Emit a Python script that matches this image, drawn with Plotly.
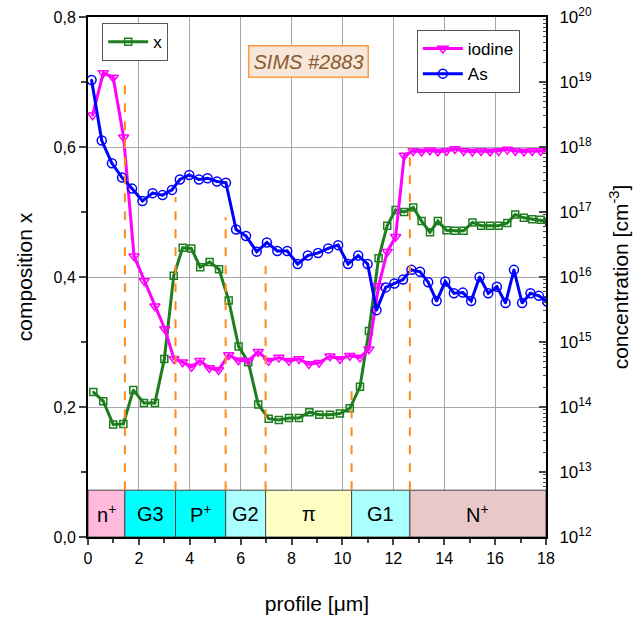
import plotly.graph_objects as go

# ---------------- data ----------------
x_comp = [0.21, 0.60, 0.99, 1.39, 1.78, 2.20, 2.63, 3.00, 3.37, 3.72, 4.06, 4.41, 4.78, 5.15,
          5.53, 5.92, 6.30, 6.69, 7.10, 7.50, 7.90, 8.29, 8.70, 9.09, 9.51, 9.90, 10.29, 10.69,
          11.04, 11.42, 11.76, 12.09, 12.43, 12.78, 13.11, 13.44, 13.75, 14.09, 14.42, 14.76,
          15.11, 15.45, 15.80, 16.14, 16.48, 16.79, 17.13, 17.46, 17.79, 18.12]
comp = [0.223, 0.209, 0.173, 0.174, 0.226, 0.206, 0.206, 0.274, 0.402, 0.445, 0.444, 0.415,
        0.423, 0.412, 0.364, 0.293, 0.269, 0.204, 0.182, 0.180, 0.183, 0.183, 0.192, 0.188,
        0.188, 0.190, 0.198, 0.231, 0.317, 0.429, 0.479, 0.503, 0.500, 0.507, 0.486, 0.469,
        0.486, 0.472, 0.471, 0.471, 0.484, 0.479, 0.479, 0.479, 0.483, 0.496, 0.491, 0.489,
        0.488, 0.485]

x_iod = [0.18, 0.60, 0.99, 1.40, 1.81, 2.21, 2.63, 3.02, 3.38, 3.72, 4.07, 4.40, 4.77, 5.13,
         5.53, 5.91, 6.30, 6.69, 7.10, 7.50, 7.90, 8.29, 8.68, 9.08, 9.51, 9.90, 10.29, 10.69,
         11.04, 11.42, 11.76, 12.09, 12.43, 12.78, 13.11, 13.44, 13.75, 14.09, 14.42, 14.76,
         15.11, 15.45, 15.80, 16.14, 16.48, 16.79, 17.13, 17.46, 17.79, 18.12]
iod_log = [18.49, 19.14, 19.07, 18.15, 16.32, 15.94, 15.55, 15.20, 14.74, 14.69, 14.62, 14.71,
           14.60, 14.57, 14.80, 14.72, 14.71, 14.85, 14.71, 14.76, 14.71, 14.74, 14.66, 14.68,
           14.78, 14.74, 14.79, 14.76, 14.89, 15.86, 16.39, 16.62, 17.87, 17.94, 17.93, 17.95,
           17.93, 17.94, 17.97, 17.94, 17.93, 17.94, 17.93, 17.94, 17.96, 17.94, 17.93, 17.94,
           17.94, 17.94]

x_as = [0.14, 0.54, 0.94, 1.34, 1.73, 2.14, 2.54, 2.93, 3.30, 3.61, 3.98, 4.36, 4.70, 5.07,
        5.42, 5.82, 6.21, 6.63, 7.03, 7.44, 7.83, 8.24, 8.64, 9.04, 9.44, 9.83, 10.22, 10.62,
        10.99, 11.34, 11.70, 12.04, 12.38, 12.71, 13.05, 13.37, 13.70, 14.04, 14.38, 14.73,
        15.06, 15.39, 15.73, 16.07, 16.41, 16.74, 17.06, 17.39, 17.72, 18.05]
as_log = [19.03, 18.10, 17.75, 17.53, 17.36, 17.17, 17.29, 17.26, 17.34, 17.50, 17.57, 17.50,
          17.52, 17.47, 17.45, 16.73, 16.63, 16.39, 16.53, 16.40, 16.40, 16.20, 16.33, 16.37,
          16.44, 16.49, 16.20, 16.33, 16.20, 15.49, 15.84, 15.90, 15.96, 16.11, 16.08, 15.92,
          15.63, 15.93, 15.75, 15.76, 15.63, 16.00, 15.75, 15.85, 15.60, 16.11, 15.60, 15.75,
          15.71, 15.62]

iodine = [10.0 ** v for v in iod_log]
arsenic = [10.0 ** v for v in as_log]

layer_names = ["n<sup>+</sup>", "G3", "P<sup>+</sup>", "G2", "π", "G1", "N<sup>+</sup>"]
layer_edges = [0.0, 1.45, 3.44, 5.41, 6.98, 10.36, 12.65, 18.0]
layer_colors = ["#FFB9DC", "#00FFFF", "#00FFFF", "#AAFFFF", "#FFFFC4", "#AAFFFF", "#E8C8C8"]
band_top = 0.072
boundary_x = [1.45, 3.44, 5.41, 6.98, 10.36, 12.65]
boundary_top = [0.695, 0.523, 0.492, 0.417, 0.237, 0.60]

x_ticks = [0, 2, 4, 6, 8, 10, 12, 14, 16, 18]
comp_ticks = [0.0, 0.2, 0.4, 0.6, 0.8]
comp_labels = ["0,0", "0,2", "0,4", "0,6", "0,8"]
conc_exp = [12, 13, 14, 15, 16, 17, 18, 19, 20]

# ---------------- figure ----------------
FONT = "Liberation Sans, Arial, sans-serif"
GREEN = "#1E7E1E"
fig = go.Figure()

fig.add_trace(go.Scatter(
    x=x_comp, y=comp, name="x", mode="lines+markers", yaxis="y", legend="legend",
    showlegend=True,
    line=dict(color=GREEN, width=3),
    marker=dict(symbol="square-open-dot", size=7, color=GREEN, line=dict(width=1.5, color=GREEN)),
))
fig.add_trace(go.Scatter(
    x=x_iod, y=iodine, name="iodine", mode="lines+markers", yaxis="y2", legend="legend2",
    showlegend=True,
    line=dict(color="#FF00FF", width=3),
    marker=dict(symbol="triangle-down-open-dot", size=9, color="#FF00FF", line=dict(width=1.5, color="#FF00FF")),
))
fig.add_trace(go.Scatter(
    x=x_as, y=arsenic, name="As", mode="lines+markers", yaxis="y2", legend="legend2",
    showlegend=True,
    line=dict(color="#0000FF", width=3),
    marker=dict(symbol="circle-open-dot", size=9, color="#0000FF", line=dict(width=1.5, color="#0000FF")),
))

shapes = []
annotations = []
for i, name in enumerate(layer_names):
    x0, x1 = layer_edges[i], layer_edges[i + 1]
    shapes.append(dict(type="rect", xref="x", yref="y", x0=x0, x1=x1, y0=0, y1=band_top,
                       fillcolor=layer_colors[i], line=dict(color="#444444", width=1), layer="above"))
    annotations.append(dict(x=(x0 + x1) / 2, y=band_top / 2, xref="x", yref="y", text=name,
                            showarrow=False, font=dict(family=FONT, size=20, color="black")))
for bx, bt in zip(boundary_x, boundary_top):
    shapes.append(dict(type="line", xref="x", yref="y", x0=bx, x1=bx, y0=band_top, y1=bt,
                       line=dict(color="#FF8C1A", width=2, dash="dash"), layer="above"))

annotations.append(dict(x=0.4825, y=0.947, xref="paper", yref="paper", text="<i>SIMS #2883</i>",
                        showarrow=False, font=dict(family=FONT, size=20, color="#8B5A2B"),
                        bgcolor="#F6E7DA", bordercolor="#FF9A40", borderwidth=1.5, borderpad=4))

minor_vals = [float(m) * 10.0 ** e for e in conc_exp[:-1] for m in range(2, 10)]

fig.update_layout(
    width=644, height=617,
    margin=dict(l=88, r=98, t=17, b=80, autoexpand=False),
    plot_bgcolor="white", paper_bgcolor="white",
    showlegend=True,
    font=dict(family=FONT, size=16, color="black"),
    shapes=shapes, annotations=annotations,
    xaxis=dict(range=[0, 18], tickvals=x_ticks, ticks="outside", ticklen=6, tickwidth=1.5,
               showline=True, linecolor="black", linewidth=2, mirror=True, automargin=False,
               showgrid=True, gridcolor="#A8A8A8", gridwidth=1, zeroline=False,
               minor=dict(dtick=1, ticks="outside", ticklen=4, tickwidth=1.5, showgrid=False),
               title=dict(text="profile [μm]", font=dict(size=21), standoff=30),
               tickfont=dict(size=16)),
    yaxis=dict(range=[0, 0.8], tickvals=comp_ticks, ticktext=comp_labels, ticks="outside",
               ticklen=7, tickwidth=1.5, showline=True, linecolor="black", linewidth=2,
               showgrid=True, gridcolor="#A8A8A8", gridwidth=1, zeroline=False, automargin=False,
               minor=dict(dtick=0.1, ticks="outside", ticklen=5, tickwidth=1.5, showgrid=False),
               title=dict(text="composition x", font=dict(size=21), standoff=15),
               tickfont=dict(size=16)),
    yaxis2=dict(type="log", range=[12, 20], overlaying="y", side="right",
                tickvals=[10.0 ** e for e in conc_exp],
                ticktext=["10<sup>%d</sup>" % e for e in conc_exp],
                ticks="inside", ticklen=7, tickwidth=1.5, showline=True, linecolor="black", linewidth=2,
                showgrid=False, zeroline=False, ticklabelstandoff=8, automargin=False,
                minor=dict(ticks="inside", ticklen=3, tickwidth=1, showgrid=False,
                           tickvals=minor_vals),
                title=dict(text="concentration [cm<sup>-3</sup>]", font=dict(size=21), standoff=22),
                tickfont=dict(size=17)),
    legend=dict(x=0.031, y=0.988, xanchor="left", yanchor="top", bgcolor="white",
                bordercolor="#555555", borderwidth=1, font=dict(size=17), itemwidth=40,
                tracegroupgap=0, visible=True),
    legend2=dict(x=0.718, y=0.975, xanchor="left", yanchor="top", bgcolor="white",
                 bordercolor="#555555", borderwidth=1, font=dict(size=17), itemwidth=40,
                 tracegroupgap=0, visible=True),
)

fig.write_html("out.html")
